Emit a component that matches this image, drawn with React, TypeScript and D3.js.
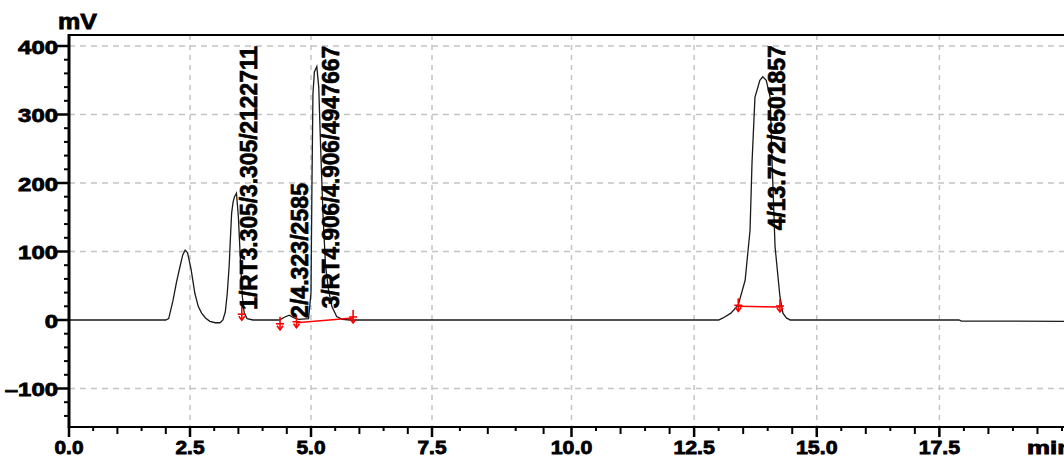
import * as d3 from "d3";

// chromatogram trace: [minutes, mV]
const TRACE: [number, number][] = [
  [0, 0], [2.0, 0], [2.06, 2], [2.15, 29], [2.22, 55], [2.29, 77], [2.35, 95], [2.4, 102],
  [2.45, 98], [2.52, 75], [2.6, 39], [2.67, 20], [2.74, 10], [2.82, 3], [2.91, -2], [3.02, -4],
  [3.12, -4], [3.18, 0], [3.23, 12], [3.27, 39], [3.31, 80], [3.33, 112], [3.36, 156], [3.39, 172],
  [3.42, 180], [3.46, 185], [3.5, 150], [3.54, 90], [3.58, 35], [3.62, 10], [3.68, 2], [3.8, 0],
  [4.35, 0], [4.45, 4], [4.55, 7], [4.65, 3], [4.75, 1], [4.95, 2], [5.0, 40], [5.02, 200],
  [5.04, 330], [5.07, 362], [5.12, 370], [5.16, 340], [5.2, 250], [5.25, 150], [5.3, 80],
  [5.36, 45], [5.43, 20], [5.53, 5], [5.65, 1], [5.8, 0], [13.0, 0], [13.09, 3], [13.25, 10],
  [13.4, 22], [13.54, 58], [13.64, 131], [13.68, 229], [13.74, 325], [13.84, 350], [13.9, 355],
  [13.97, 350], [14.05, 325], [14.09, 229], [14.15, 107], [14.25, 34], [14.31, 10], [14.38, 3],
  [14.46, 0], [17.9, 0], [17.95, -1.5], [20.1, -2],
];

// integration baselines (red) [t0, v0, t1, v1]
const BASELINES: [number, number, number, number][] = [
  [4.7, -4, 5.87, 3],
  [13.4, 20, 14.25, 19],
];

// red peak start/end markers [t, mV]
const MARKERS: [number, number][] = [
  [3.57, 7], [4.36, -7], [4.7, -4], [5.87, 3], [13.4, 20], [14.25, 19],
];

// peak annotations: text, x (min), bottom mV, top mV
const PEAK_LABELS = [
  { text: "1/RT3.305/3.305/2122711", t: 3.88, v0: 15, v1: 400 },
  { text: "2/4.323/2585", t: 4.94, v0: 3, v1: 200 },
  { text: "3/RT4.906/4.906/4947667", t: 5.58, v0: 17, v1: 400 },
  { text: "4/13.772/6501857", t: 14.35, v0: 131, v1: 401 },
];

const X_TICKS = [0, 2.5, 5, 7.5, 10, 12.5, 15, 17.5];
const Y_TICKS = [-100, 0, 100, 200, 300, 400];

export default function App() {
  const W = 1064;
  const H = 458;
  const plot = { left: 69, right: 1064, top: 35, bottom: 427 };

  // the source image is stretched a little between 7.5 and 10
  const x = d3.scaleLinear().domain([0, 7.5, 10, 20]).range([69, 432, 571.5, 1062]);
  const y = d3.scaleLinear().domain([0, 400]).range([320, 46]);

  const line = d3
    .line<[number, number]>()
    .x((d) => x(d[0]))
    .y((d) => y(d[1]));

  const minorX = d3.range(0, 20.01, 0.5).filter((t) => !X_TICKS.includes(t));
  const minorY = d3.range(-140, 401, 20).filter((v) => !Y_TICKS.includes(v));

  const font = "'Liberation Sans', Arial, sans-serif";

  return (
    <svg
      width={W}
      height={H}
      style={{ position: "absolute", left: 0, top: 0, background: "#fff" }}
    >
      {/* grid */}
      {Y_TICKS.filter((v) => v !== 0).map((v) => (
        <line
          key={"gy" + v}
          x1={plot.left}
          x2={plot.right}
          y1={y(v)}
          y2={y(v)}
          stroke="#c4c4c4"
          strokeWidth={1.5}
          strokeDasharray="6,5"
        />
      ))}
      {X_TICKS.filter((t) => t > 0).map((t) => (
        <line
          key={"gx" + t}
          x1={x(t)}
          x2={x(t)}
          y1={plot.top}
          y2={plot.bottom}
          stroke="#c4c4c4"
          strokeWidth={1.5}
          strokeDasharray="5,5"
        />
      ))}

      {/* trace */}
      <path d={line(TRACE) ?? ""} fill="none" stroke="#1a1a1a" strokeWidth={1.3} />

      {/* baselines + markers */}
      {BASELINES.map((b, i) => (
        <line
          key={"bl" + i}
          x1={x(b[0])}
          y1={y(b[1])}
          x2={x(b[2])}
          y2={y(b[3])}
          stroke="#ff0000"
          strokeWidth={1.5}
        />
      ))}
      {MARKERS.map((m, i) => {
        const cx = x(m[0]);
        const cy = y(m[1]);
        return (
          <g key={"mk" + i} stroke="#ff0000" strokeWidth={1.6} fill="none">
            <line x1={cx} x2={cx} y1={cy - 8} y2={cy + 5} />
            <line x1={cx - 4} x2={cx + 4} y1={cy - 1} y2={cy - 1} />
            <polyline points={`${cx - 3},${cy + 1} ${cx},${cy + 5} ${cx + 3},${cy + 1}`} />
          </g>
        );
      })}

      {/* peak labels */}
      {PEAK_LABELS.map((p) => {
        const px = x(p.t);
        const py = y(p.v0);
        return (
          <text
            key={p.text}
            transform={`translate(${px},${py}) rotate(-90)`}
            fontFamily={font}
            fontWeight="bold"
            fontSize={24}
            fill="#000"
            stroke="#000"
            strokeWidth={0.7}
            textLength={py - y(p.v1)}
            lengthAdjust="spacingAndGlyphs"
          >
            {p.text}
          </text>
        );
      })}

      {/* axes frame */}
      <line x1={plot.left} x2={plot.right} y1={plot.top} y2={plot.top} stroke="#000" strokeWidth={2} />
      <line x1={plot.left} x2={plot.right} y1={plot.bottom} y2={plot.bottom} stroke="#000" strokeWidth={2} />
      <line x1={plot.left} x2={plot.left} y1={plot.top - 1} y2={plot.bottom + 1} stroke="#000" strokeWidth={3} />

      {/* y ticks */}
      {Y_TICKS.map((v) => (
        <g key={"yt" + v}>
          <line x1={plot.left - 12} x2={plot.left} y1={y(v)} y2={y(v)} stroke="#000" strokeWidth={2.5} />
          <text
            x={58}
            y={y(v) + 7.5}
            textAnchor="end"
            fontFamily={font}
            fontWeight="bold"
            fontSize={19}
            stroke="#000"
            strokeWidth={0.8}
            textLength={String(v).length * 13.3}
            lengthAdjust="spacingAndGlyphs"
          >
            {v < 0 ? "\u2013" + Math.abs(v) : v}
          </text>
        </g>
      ))}
      {minorY.map((v) => (
        <line key={"ym" + v} x1={plot.left - 5} x2={plot.left} y1={y(v)} y2={y(v)} stroke="#000" strokeWidth={2} />
      ))}

      {/* x ticks */}
      {X_TICKS.map((t) => {
        const label = t.toFixed(1);
        return (
          <g key={"xt" + t}>
            <line x1={x(t)} x2={x(t)} y1={plot.bottom} y2={plot.bottom + 10} stroke="#000" strokeWidth={2.5} />
            <text
              x={x(t)}
              y={454}
              textAnchor="middle"
              fontFamily={font}
              fontWeight="bold"
              fontSize={18}
              stroke="#000"
              strokeWidth={0.8}
              textLength={(label.length - 1) * 12.5 + 4}
              lengthAdjust="spacingAndGlyphs"
            >
              {label}
            </text>
          </g>
        );
      })}
      {minorX.map((t, i) => (
        <line
          key={"xm" + t}
          x1={x(t)}
          x2={x(t)}
          y1={plot.bottom}
          y2={plot.bottom + (i % 2 === 0 ? 4 : 7)}
          stroke="#000"
          strokeWidth={2}
        />
      ))}

      {/* units */}
      <text x={58} y={29} fontFamily={font} fontWeight="bold" fontSize={22} stroke="#000" strokeWidth={0.8} textLength={39} lengthAdjust="spacingAndGlyphs">
        mV
      </text>
      <text x={1027} y={454} fontFamily={font} fontWeight="bold" fontSize={18} stroke="#000" strokeWidth={0.8} textLength={46} lengthAdjust="spacingAndGlyphs">
        min
      </text>
    </svg>
  );
}
